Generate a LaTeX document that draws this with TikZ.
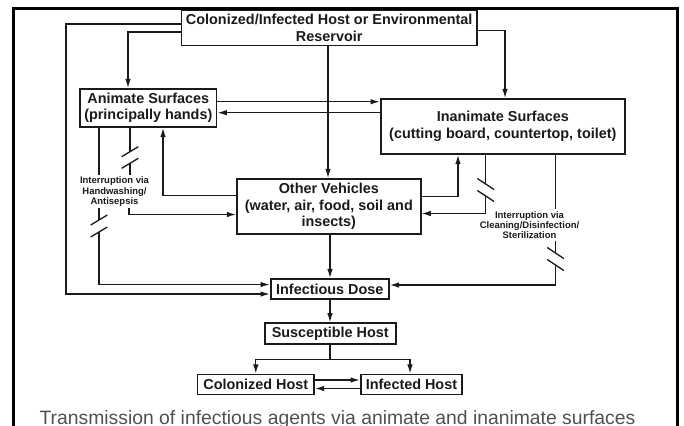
\documentclass[tikz,border=0pt]{standalone}
\usepackage{fontspec}
\setmainfont{Liberation Sans}
\usetikzlibrary{arrows.meta}

\definecolor{inkdark}{HTML}{1A1A1A}
\definecolor{capgray}{HTML}{505050}
\newcommand{\boxfont}{\fontsize{10.8}{12.3}\selectfont\bfseries}
\newcommand{\notefont}{\fontsize{7.1}{7.7}\selectfont\bfseries}

\tikzset{every picture/.style={line width=0.75pt}}
\tikzset{
  box/.style={draw=inkdark, line width=1.25pt, inner sep=0pt, align=center, text=inkdark, font=\boxfont},
  note/.style={align=center, inner sep=1pt, text=inkdark, font=\notefont},
  link/.style={draw=inkdark, line width=1pt},
  arr/.style={link, -{Latex[length=7pt,width=4.2pt]}},
  fwdcut/.pic={\draw[link] (-8.3,-5) -- (8.3,5);},
  backcut/.pic={\draw[link] (-8.3,5.5) -- (8.3,-5.5);},
}

\begin{document}
\begin{tikzpicture}[x=0.75pt,y=0.75pt,yscale=-1,xscale=1]
	\useasboundingbox (0,0) rectangle (684,425);

	%Shape: Frame
	\draw [line width=2.2pt] (13.5,440) -- (13.5,8.5) -- (677.5,8.5) -- (677.5,440) ;

	% Boxes
	\node [box, minimum width=221.6pt, minimum height=26.25pt] (reservoir) at (329.2,28) {Colonized/Infected Host or Environmental\\Reservoir};
	\node [box, minimum width=102.5pt, minimum height=28.5pt] (animate) at (148.3,108) {Animate Surfaces\\(principally hands)};
	\node [box, minimum width=183.2pt, minimum height=41.25pt] (inanimate) at (502.8,126.5) {Inanimate Surfaces\\(cutting board, countertop, toilet)};
	\node [box, minimum width=137.8pt, minimum height=41.25pt] (vehicles) at (328.8,206.5) {Other Vehicles\\(water, air, food, soil and\\insects)};
	\node [box, minimum width=88.7pt, minimum height=15pt] (dose) at (329.8,289) {Infectious Dose};
	\node [box, minimum width=98.25pt, minimum height=15.75pt] (suscept) at (330.2,333.8) {Susceptible Host};
	\node [box, minimum width=87.4pt, minimum height=15pt] (colon) at (255.8,384.5) {Colonized Host};
	\node [box, minimum width=76.2pt, minimum height=15pt] (infected) at (411.5,384.5) {Infected Host};

	% Text Node
	\node [note] (handwash) at (114.5,191.7) {Interruption via\\Handwashing/\\Antisepsis};
	\node [note] (cleaning) at (529.5,225) {Interruption via\\Cleaning/Disinfection/\\Sterilization};
	\node [anchor=base, text=capgray, font=\fontsize{14.5}{16}\selectfont] (caption) at (337.5,424) {Transmission of infectious agents via animate and inanimate surfaces};

	% Cut points
	\coordinate (hwA) at (99,220);
	\coordinate (hwB) at (99,232);
	\coordinate (hwC) at (130,151.7);
	\coordinate (hwD) at (130,163.3);
	\coordinate (clA) at (485.7,184);
	\coordinate (clB) at (485.7,196);
	\coordinate (clC) at (555.5,253);
	\coordinate (clD) at (555.5,265);
	\coordinate (fork) at (330,359.3);

	%Straight Lines from the reservoir
	\draw [arr] (reservoir.west |- 0,24) -| (66,294) -- (dose.west |- 0,294) ;
	\draw [arr] (reservoir.west |- 0,32) -| (animate.north -| 128,0) ;
	\draw [arr] (reservoir.east |- 0,30.7) -| (inanimate.north -| 505,0) ;
	\draw [arr] (reservoir.south -| 328,0) -- (vehicles.north -| 328,0) ;

	%Straight Lines between surfaces
	\draw [arr] (animate.east |- 0,101.7) -- (inanimate.west |- 0,101.7) ;
	\draw [arr] (inanimate.west |- 0,112.7) -- (animate.east |- 0,112.7) ;
	\draw [arr] (vehicles.west |- 0,195.5) -| (animate.south -| 163,0) ;
	\draw [arr] (vehicles.east |- 0,196.5) -| (inanimate.south -| 458,0) ;

	%Straight Lines through handwashing
	\draw [link] (animate.south -| 99,0) -- (handwash.north -| 99,0) ;
	\draw [link] (handwash.south -| 99,0) -- (hwA) ;
	\draw [arr] (hwB) |- (dose.west |- 0,284.5) ;
	\draw [link] (animate.south -| 130,0) -- (hwC) ;
	\draw [link] (hwD) -- (handwash.north -| 130,0) ;
	\draw [arr] (handwash.south -| 129,0) |- (vehicles.west |- 0,214.5) ;
	\pic at (hwA) {fwdcut};
	\pic at (hwB) {fwdcut};
	\pic at (hwC) {fwdcut};
	\pic at (hwD) {fwdcut};

	%Straight Lines through cleaning
	\draw [link] (inanimate.south -| 485.7,0) -- (clA) ;
	\draw [arr] (clB) |- (vehicles.east |- 0,213.5) ;
	\draw [link] (inanimate.south -| 555.5,0) -- (cleaning.north -| 555.5,0) ;
	\draw [link] (cleaning.south -| 555.5,0) -- (clC) ;
	\draw [arr] (clD) |- (dose.east |- 0,285) ;
	\pic at (clA) {backcut};
	\pic at (clB) {backcut};
	\pic at (clC) {backcut};
	\pic at (clD) {backcut};

	%Straight Lines to the hosts
	\draw [arr] (vehicles.south -| 330,0) -- (dose.north -| 330,0) ;
	\draw [arr] (dose.south -| 330,0) -- (suscept.north -| 330,0) ;
	\draw [link] (suscept.south -| 330,0) -- (fork) ;
	\draw [arr] (fork) -| (colon.north) ;
	\draw [arr] (fork) -| (infected.north -| 410,0) ;
	\draw [arr] (colon.east |- 0,380) -- (infected.west |- 0,380) ;
	\draw [arr] (infected.west |- 0,388.5) -- (colon.east |- 0,388.5) ;

\end{tikzpicture}
\end{document}
